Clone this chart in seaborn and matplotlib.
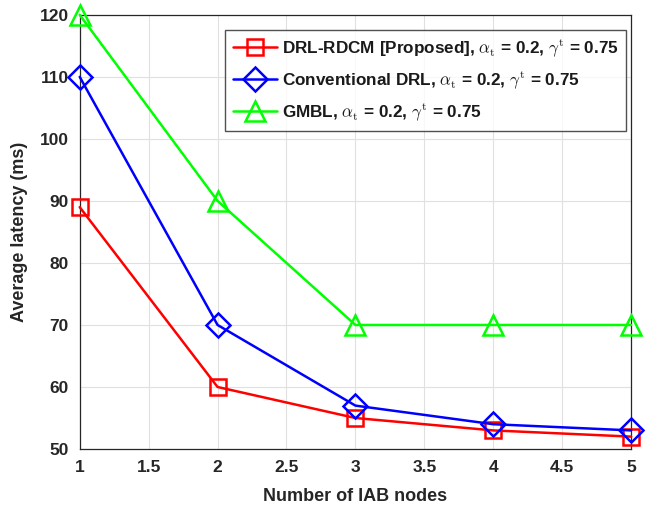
import matplotlib
matplotlib.use("Agg")
import matplotlib.pyplot as plt
import seaborn as sns
import pandas as pd

nodes = [1, 2, 3, 4, 5]
drl_rdcm = [89, 60, 55, 53, 52]
conv_drl = [110, 70, 57, 54, 53]
gmbl = [120, 90, 70, 70, 70]

labels = [r"DRL-RDCM [Proposed], $\alpha_{\mathrm{t}}$ = 0.2, $\gamma^{\mathrm{t}}$ = 0.75",
          r"Conventional DRL, $\alpha_{\mathrm{t}}$ = 0.2, $\gamma^{\mathrm{t}}$ = 0.75",
          r"GMBL, $\alpha_{\mathrm{t}}$ = 0.2, $\gamma^{\mathrm{t}}$ = 0.75"]
series = [drl_rdcm, conv_drl, gmbl]
colors = ["#ff0000", "#0000ff", "#00ff00"]
markers = ["s", "D", "^"]
msizes = [11, 12, 14]

sns.set_style("white")
plt.rcParams['font.family'] = ['Liberation Sans', 'DejaVu Sans']
plt.rcParams['mathtext.fontset'] = 'cm'

fig = plt.figure(figsize=(6.48, 5.12), dpi=100)
ax = fig.add_axes([0.123, 0.123, 0.851, 0.848])

for lab, ys, c, m, ms in zip(labels, series, colors, markers, msizes):
    df = pd.DataFrame({"x": nodes, "y": ys})
    sns.lineplot(data=df, x="x", y="y", ax=ax, color=c, marker=m, markersize=ms,
                 markerfacecolor="none", markeredgecolor=c, markeredgewidth=1.8,
                 linewidth=1.8, label=lab, clip_on=False, zorder=3)

ax.set_xlim(1, 5)
ax.set_ylim(50, 120)
ax.set_xticks([1, 1.5, 2, 2.5, 3, 3.5, 4, 4.5, 5])
ax.set_xticklabels(["1", "1.5", "2", "2.5", "3", "3.5", "4", "4.5", "5"])
ax.set_yticks(range(50, 121, 10))
ax.grid(True, color="#e0e0e0", linewidth=0.8)
ax.tick_params(direction="in", length=4, colors="#262626", labelsize=12.5, pad=8)
for lbl in ax.get_xticklabels() + ax.get_yticklabels():
    lbl.set_fontweight("bold")
    lbl.set_color("#262626")
for s in ax.spines.values():
    s.set_color("#262626")
    s.set_linewidth(0.9)
    s.set_visible(True)

ax.set_xlabel("Number of IAB nodes", fontsize=13, fontweight="bold", color="#262626", labelpad=9)
ax.set_ylabel("Average latency (ms)", fontsize=13, fontweight="bold", color="#262626", labelpad=8)

leg = ax.legend(loc="upper right", bbox_to_anchor=(0.991, 0.966), fontsize=12.3, frameon=True,
                fancybox=False, edgecolor="#262626", handlelength=2.6, borderpad=0.45,
                labelspacing=0.6, handletextpad=0.25, borderaxespad=0)
leg.get_frame().set_linewidth(1.0)
for t in leg.get_texts():
    t.set_fontweight("bold")
    t.set_color("#1a1a1a")

fig.savefig("out.png", dpi=100)
